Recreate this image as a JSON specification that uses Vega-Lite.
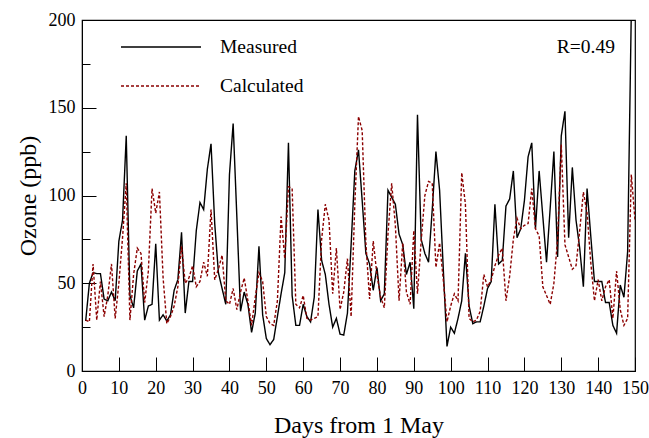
{
  "$schema": "https://vega.github.io/schema/vega-lite/v6.json",
  "width": 553,
  "height": 351,
  "autosize": {"type": "none"},
  "padding": {"left": 82, "top": 20, "right": 14, "bottom": 67},
  "background": "white",
  "config": {
    "view": {"stroke": "black", "strokeWidth": 1.2},
    "font": "Liberation Serif"
  },
  "title": {
    "text": "R=0.49",
    "anchor": "end",
    "frame": "group",
    "offset": -46,
    "dx": -20,
    "font": "Liberation Serif",
    "fontSize": 19.5,
    "fontWeight": "normal",
    "color": "black"
  },
  "data": {
    "values": [
      {"day":1,"Measured":28.5,"Calculated":29},{"day":2,"Measured":50,"Calculated":28},{"day":3,"Measured":56,"Calculated":61},{"day":4,"Measured":55.5,"Calculated":29},{"day":5,"Measured":55.5,"Calculated":51},
      {"day":6,"Measured":41,"Calculated":31},{"day":7,"Measured":40,"Calculated":43},{"day":8,"Measured":45,"Calculated":61},{"day":9,"Measured":40,"Calculated":30},{"day":10,"Measured":74,"Calculated":50},
      {"day":11,"Measured":86,"Calculated":76},{"day":12,"Measured":134,"Calculated":107},{"day":13,"Measured":43,"Calculated":29},{"day":14,"Measured":36,"Calculated":55},{"day":15,"Measured":57,"Calculated":70},
      {"day":16,"Measured":61,"Calculated":67},{"day":17,"Measured":29,"Calculated":39},{"day":18,"Measured":37,"Calculated":57},{"day":19,"Measured":38,"Calculated":104},{"day":20,"Measured":72.5,"Calculated":90},
      {"day":21,"Measured":29,"Calculated":102},{"day":22,"Measured":32,"Calculated":53},{"day":23,"Measured":28.5,"Calculated":27},{"day":24,"Measured":32,"Calculated":31},{"day":25,"Measured":46,"Calculated":37},
      {"day":26,"Measured":52,"Calculated":48},{"day":27,"Measured":79,"Calculated":71},{"day":28,"Measured":33,"Calculated":50},{"day":29,"Measured":51,"Calculated":53},{"day":30,"Measured":51,"Calculated":60},
      {"day":31,"Measured":80,"Calculated":48},{"day":32,"Measured":96,"Calculated":51},{"day":33,"Measured":92,"Calculated":62},{"day":34,"Measured":115,"Calculated":54},{"day":35,"Measured":129.5,"Calculated":92},
      {"day":36,"Measured":84,"Calculated":52},{"day":37,"Measured":56,"Calculated":58},{"day":38,"Measured":47,"Calculated":66},{"day":39,"Measured":38,"Calculated":40},{"day":40,"Measured":112,"Calculated":38},
      {"day":41,"Measured":141,"Calculated":47},{"day":42,"Measured":88,"Calculated":35},{"day":43,"Measured":34,"Calculated":45},{"day":44,"Measured":45,"Calculated":53},{"day":45,"Measured":38,"Calculated":40},
      {"day":46,"Measured":22,"Calculated":26},{"day":47,"Measured":33,"Calculated":42},{"day":48,"Measured":71,"Calculated":56},{"day":49,"Measured":32,"Calculated":51},{"day":50,"Measured":18.5,"Calculated":31},
      {"day":51,"Measured":15,"Calculated":27},{"day":52,"Measured":18,"Calculated":26},{"day":53,"Measured":31,"Calculated":40},{"day":54,"Measured":44,"Calculated":88},{"day":55,"Measured":56,"Calculated":64},
      {"day":56,"Measured":130,"Calculated":105},{"day":57,"Measured":43,"Calculated":104},{"day":58,"Measured":26,"Calculated":38},{"day":59,"Measured":26,"Calculated":36},{"day":60,"Measured":38,"Calculated":43},
      {"day":61,"Measured":31,"Calculated":30},{"day":62,"Measured":28,"Calculated":29},{"day":63,"Measured":42,"Calculated":30},{"day":64,"Measured":92,"Calculated":31},{"day":65,"Measured":63,"Calculated":75},
      {"day":66,"Measured":55,"Calculated":95},{"day":67,"Measured":38,"Calculated":86},{"day":68,"Measured":25,"Calculated":44},{"day":69,"Measured":30,"Calculated":70},{"day":70,"Measured":21,"Calculated":35},
      {"day":71,"Measured":20.5,"Calculated":45},{"day":72,"Measured":33,"Calculated":64},{"day":73,"Measured":72,"Calculated":31},{"day":74,"Measured":114,"Calculated":95},{"day":75,"Measured":126,"Calculated":145},
      {"day":76,"Measured":97,"Calculated":137},{"day":77,"Measured":67,"Calculated":73},{"day":78,"Measured":61,"Calculated":41},{"day":79,"Measured":46,"Calculated":74},{"day":80,"Measured":59,"Calculated":55},
      {"day":81,"Measured":40,"Calculated":42},{"day":82,"Measured":44,"Calculated":36},{"day":83,"Measured":103,"Calculated":78},{"day":84,"Measured":99,"Calculated":107},{"day":85,"Measured":95,"Calculated":83},
      {"day":86,"Measured":78,"Calculated":40},{"day":87,"Measured":72,"Calculated":73},{"day":88,"Measured":55,"Calculated":45},{"day":89,"Measured":62,"Calculated":38},{"day":90,"Measured":35.5,"Calculated":80},
      {"day":91,"Measured":146,"Calculated":44},{"day":92,"Measured":75,"Calculated":74},{"day":93,"Measured":67,"Calculated":100},{"day":94,"Measured":62,"Calculated":108},{"day":95,"Measured":92,"Calculated":107},
      {"day":96,"Measured":125,"Calculated":59},{"day":97,"Measured":103,"Calculated":73},{"day":98,"Measured":58,"Calculated":52},{"day":99,"Measured":14,"Calculated":28},{"day":100,"Measured":25,"Calculated":37},
      {"day":101,"Measured":21.5,"Calculated":44},{"day":102,"Measured":30,"Calculated":40},{"day":103,"Measured":40,"Calculated":113},{"day":104,"Measured":67,"Calculated":95},{"day":105,"Measured":37,"Calculated":30},
      {"day":106,"Measured":27,"Calculated":28},{"day":107,"Measured":28,"Calculated":29},{"day":108,"Measured":28,"Calculated":34},{"day":109,"Measured":37,"Calculated":55},{"day":110,"Measured":47,"Calculated":48},
      {"day":111,"Measured":51,"Calculated":52},{"day":112,"Measured":95,"Calculated":60},{"day":113,"Measured":61,"Calculated":66},{"day":114,"Measured":63,"Calculated":70},{"day":115,"Measured":94,"Calculated":40},
      {"day":116,"Measured":98,"Calculated":54},{"day":117,"Measured":114,"Calculated":75},{"day":118,"Measured":76,"Calculated":87},{"day":119,"Measured":81,"Calculated":81},{"day":120,"Measured":97,"Calculated":83},
      {"day":121,"Measured":122,"Calculated":84},{"day":122,"Measured":130,"Calculated":104},{"day":123,"Measured":81,"Calculated":81},{"day":124,"Measured":114,"Calculated":77},{"day":125,"Measured":88,"Calculated":48},
      {"day":126,"Measured":62,"Calculated":43},{"day":127,"Measured":93,"Calculated":38},{"day":128,"Measured":125,"Calculated":50},{"day":129,"Measured":65,"Calculated":75},{"day":130,"Measured":134,"Calculated":129},
      {"day":131,"Measured":148,"Calculated":72},{"day":132,"Measured":76,"Calculated":65},{"day":133,"Measured":116,"Calculated":58},{"day":134,"Measured":86,"Calculated":60},{"day":135,"Measured":70,"Calculated":80},
      {"day":136,"Measured":48,"Calculated":102},{"day":137,"Measured":104,"Calculated":90},{"day":138,"Measured":77,"Calculated":62},{"day":139,"Measured":51,"Calculated":40},{"day":140,"Measured":51,"Calculated":52},
      {"day":141,"Measured":51,"Calculated":40},{"day":142,"Measured":39,"Calculated":48},{"day":143,"Measured":39,"Calculated":52},{"day":144,"Measured":26,"Calculated":30},{"day":145,"Measured":21.5,"Calculated":57},
      {"day":146,"Measured":49,"Calculated":35},{"day":147,"Measured":42,"Calculated":26},{"day":148,"Measured":68,"Calculated":30},{"day":149,"Measured":205,"Calculated":112},{"day":150,"Measured":null,"Calculated":86}
    ]
  },
  "transform": [
    {"fold": ["Measured", "Calculated"], "as": ["series", "ozone"]}
  ],
  "mark": {"type": "line", "clip": true, "strokeWidth": 1.4},
  "encoding": {
    "x": {
      "field": "day",
      "type": "quantitative",
      "scale": {"domain": [0, 150], "nice": false},
      "axis": {
        "values": [0,10,20,30,40,50,60,70,80,90,100,110,120,130,140,150],
        "grid": false,
        "tickSize": -14,
        "tickColor": "black",
        "domainColor": "black",
        "labelColor": "black",
        "labelFontSize": 18,
        "labelPadding": 22,
        "labelFlush": false,
        "labelOverlap": false,
        "title": "Days from 1 May",
        "titleFontSize": 24,
        "titleFontWeight": "normal",
        "titleColor": "black",
        "titlePadding": 16
      }
    },
    "y": {
      "field": "ozone",
      "type": "quantitative",
      "scale": {"domain": [0, 200], "nice": false},
      "axis": {
        "values": [0,25,50,75,100,125,150,175,200],
        "labelExpr": "datum.value % 50 === 0 ? datum.label : ''",
        "grid": false,
        "tickSize": {"condition": {"test": "datum.value % 50 === 0", "value": -14}, "value": -8},
        "tickColor": "black",
        "domainColor": "black",
        "labelColor": "black",
        "labelFontSize": 18,
        "labelPadding": 21,
        "labelFlush": false,
        "labelOverlap": false,
        "title": "Ozone (ppb)",
        "titleFontSize": 24,
        "titleFontWeight": "normal",
        "titleColor": "black",
        "titlePadding": 8
      }
    },
    "color": {
      "field": "series",
      "type": "nominal",
      "scale": {"domain": ["Measured", "Calculated"], "range": ["#000000", "#8b0000"]},
      "legend": {
        "orient": "none",
        "legendX": 68,
        "legendY": 16,
        "title": null,
        "symbolType": "M-4,0H4",
        "symbolSize": 400,
        "symbolStrokeWidth": 1.4,
        "labelFontSize": 19.5,
        "labelColor": "black",
        "labelOffset": 48,
        "rowPadding": 18
      }
    },
    "strokeDash": {
      "field": "series",
      "type": "nominal",
      "scale": {"domain": ["Measured", "Calculated"], "range": [[1, 0], [3, 2]]}
    }
  }
}
